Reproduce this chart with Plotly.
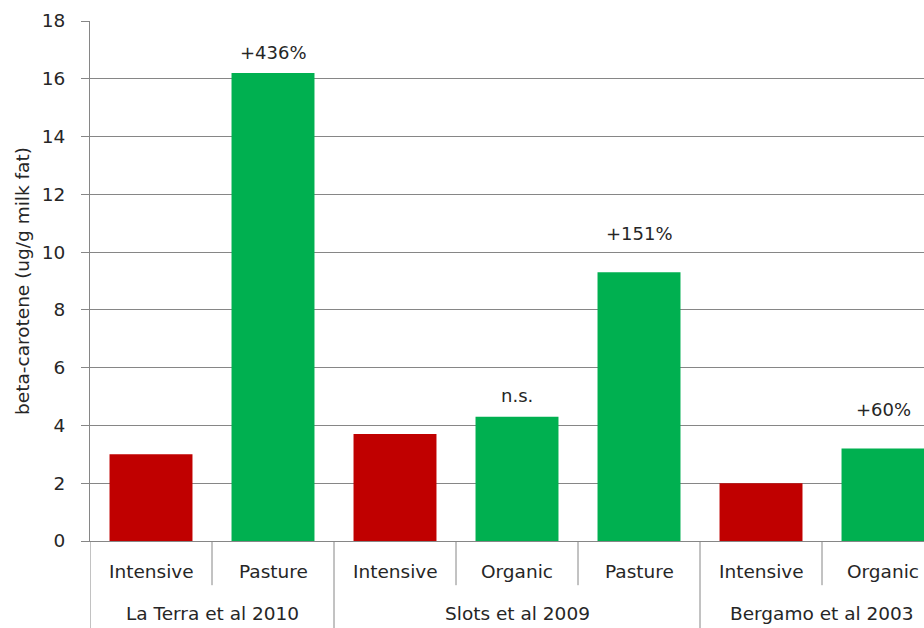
import plotly.graph_objects as go

# Data
studies = ["La Terra et al 2010", "Slots et al 2009", "Bergamo et al 2003"]
systems = ["Intensive", "Pasture", "Intensive", "Organic", "Pasture", "Intensive", "Organic"]
study_of_bar = [0, 0, 1, 1, 1, 2, 2]
values = [3.0, 16.2, 3.7, 4.3, 9.3, 2.0, 3.2]
diff_labels = ["", "+436%", "", "n.s.", "+151%", "", "+60%"]
label_heights = [None, 16.9, None, 5.05, 10.65, None, 4.55]

RED = "#C00000"
GREEN = "#00B050"
colors = [RED if s == "Intensive" else GREEN for s in systems]

FONT = "DejaVu Sans"
TXT = "#262626"
GRID = "#868686"

xs = list(range(len(systems)))

fig = go.Figure()
fig.add_trace(go.Bar(
    x=xs, y=values, width=0.68,
    marker=dict(color=colors, line=dict(width=0)),
    hoverinfo="y",
))

annotations = []
for i, (lab, h) in enumerate(zip(diff_labels, label_heights)):
    if lab:
        annotations.append(dict(x=i, y=h, xref="x", yref="y", text=lab, showarrow=False,
                                font=dict(family=FONT, size=18, color=TXT)))

# sub category labels
for i, s in enumerate(systems):
    annotations.append(dict(x=i, y=-0.058, xref="x", yref="paper", text=s, showarrow=False,
                            font=dict(family=FONT, size=18.5, color=TXT), yanchor="middle"))

# group labels and separators
shapes = []
n_groups = len(studies)
for g in range(n_groups):
    idx = [i for i, sg in enumerate(study_of_bar) if sg == g]
    lo, hi = idx[0] - 0.5, idx[-1] + 0.5
    annotations.append(dict(x=(lo + hi) / 2, y=-0.139, xref="x", yref="paper", text=studies[g],
                            showarrow=False, font=dict(family=FONT, size=18.5, color=TXT),
                            yanchor="middle"))
    shapes.append(dict(type="line", xref="x", yref="paper", x0=lo, x1=lo, y0=0, y1=-0.18,
                       line=dict(color=GRID, width=1)))
    for i in idx[:-1]:
        shapes.append(dict(type="line", xref="x", yref="paper", x0=i + 0.5, x1=i + 0.5,
                           y0=0, y1=-0.085, line=dict(color=GRID, width=1)))

fig.update_layout(
    width=924, height=628,
    margin=dict(l=90, r=0, t=21, b=87, autoexpand=False),
    plot_bgcolor="white", paper_bgcolor="white",
    showlegend=False,
    annotations=annotations,
    shapes=shapes,
    xaxis=dict(range=[-0.5, 6.336], showticklabels=False, showgrid=False, zeroline=False,
               showline=True, linecolor=GRID, linewidth=1, ticks="", automargin=False),
    yaxis=dict(range=[0, 18], dtick=2, showgrid=True, gridcolor=GRID, gridwidth=1,
               zeroline=False, showline=True, linecolor=GRID, linewidth=1,
               ticks="outside", ticklen=8, tickcolor=GRID, automargin=False,
               ticklabelstandoff=12,
               tickfont=dict(family=FONT, size=18.5, color=TXT),
               title=dict(text="beta-carotene (ug/g milk fat)", standoff=7,
                          font=dict(family=FONT, size=18.5, color=TXT))),
)

fig.write_html("out.html", config={"displayModeBar": False},
               post_script="document.body.style.margin='0px';")
